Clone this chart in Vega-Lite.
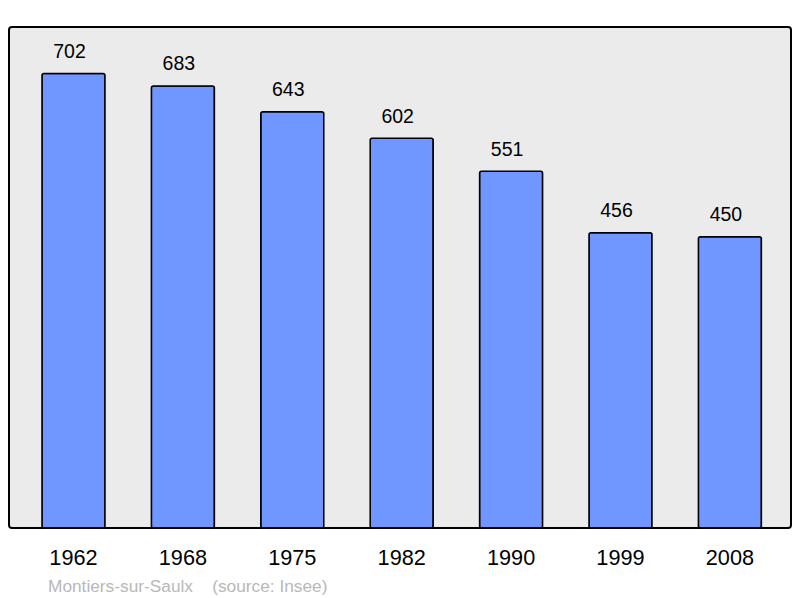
{
  "$schema": "https://vega.github.io/schema/vega-lite/v6.json",
  "autosize": "none",
  "width": 782,
  "height": 501,
  "padding": {"left": 9, "top": 27, "right": 9, "bottom": 70},
  "background": "#ffffff",
  "config": {
    "view": {"fill": "#ebebeb", "stroke": "#000000", "strokeWidth": 2, "cornerRadius": 3},
    "font": "Liberation Sans"
  },
  "title": {
    "text": "Montiers-sur-Saulx\u00a0\u00a0\u00a0\u00a0(source: Insee)",
    "orient": "bottom",
    "anchor": "start",
    "dx": 39,
    "offset": 9,
    "fontSize": 17.3,
    "fontWeight": "normal",
    "color": "#b8b8b8",
    "font": "Liberation Sans"
  },
  "data": {
    "values": [
      {"year": "1962", "pop": 702},
      {"year": "1968", "pop": 683},
      {"year": "1975", "pop": 643},
      {"year": "1982", "pop": 602},
      {"year": "1990", "pop": 551},
      {"year": "1999", "pop": 456},
      {"year": "2008", "pop": 450}
    ]
  },
  "encoding": {
    "x": {
      "field": "year",
      "type": "ordinal",
      "sort": null,
      "scale": {"paddingInner": 0.424, "paddingOuter": 0.286, "align": 0.527},
      "axis": {
        "title": null,
        "domain": false,
        "ticks": false,
        "labelAngle": 0,
        "labelFontSize": 21.7,
        "labelColor": "#000000",
        "labelBaseline": "alphabetic",
        "labelPadding": 36,
        "labelFont": "Liberation Sans"
      }
    },
    "y": {
      "field": "pop",
      "type": "quantitative",
      "scale": {"domain": [0, 774], "nice": false, "zero": true},
      "axis": null
    }
  },
  "layer": [
    {
      "mark": {"type": "bar", "fill": "#7097ff", "stroke": "#000000", "strokeWidth": 1.5, "cornerRadius": 2}
    },
    {
      "mark": {"type": "text", "baseline": "alphabetic", "dx": -4, "dy": -15.5, "fontSize": 19.5, "color": "#000000", "font": "Liberation Sans"},
      "encoding": {"text": {"field": "pop", "type": "quantitative"}}
    }
  ]
}
